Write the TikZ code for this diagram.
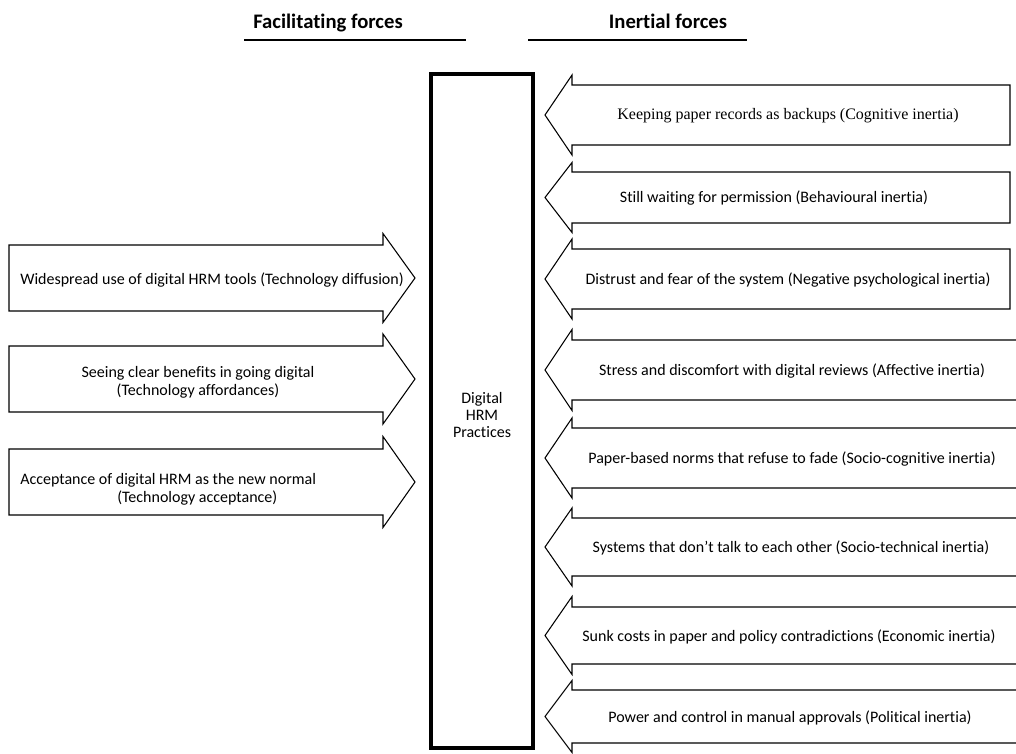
\documentclass[tikz,border=0pt]{standalone}
\usepackage{fontspec}
\setmainfont{Carlito}[Ligatures=NoCommon]
\newfontfamily\timesfont{Liberation Serif}
\usetikzlibrary{positioning}

\begin{document}
\begin{tikzpicture}[x=0.75pt, y=-0.75pt, font=\fontsize{12}{13.5}\selectfont,
		blockarrow/.style={draw, line width=0.8pt, line join=miter},
		forcetext/.style={inner sep=0pt},
		heading/.style={anchor=base, font=\fontsize{15.5}{17}\selectfont\bfseries}]
		\useasboundingbox (0,0) rectangle (1016,753);
		\clip (0,0) rectangle (1016,753);
		% headings
		\node [heading] (fachead) at (328,28) {Facilitating forces};
		\node [heading] (inhead) at (668,28) {Inertial forces};
		\draw [line width=0.9pt] (244,40)--(466,40);
		\draw [line width=0.9pt] (528,40)--(747,40);
		% practices
		\node [draw, line width=3pt, minimum width=76.5pt, minimum height=505.5pt] (hrm) at (482,411) {};
		\node [align=center, inner sep=0pt, font=\fontsize{12}{12.75}\selectfont] (hrmtext) at (482,415) {Digital\\HRM\\Practices};
		% facilitating forces
		\foreach \c/\b/\h in {278/33/44.5, 379/33/45, 482/33/45.5}{
			\draw [blockarrow] (9,\c-\b)--(383,\c-\b)--(383,\c-\h)--(415,\c)--(383,\c+\h)--(383,\c+\b)--(9,\c+\b)--cycle;
		}
		\node [forcetext, anchor=west] (fac1) at (20,280) {Widespread use of digital HRM tools (Technology diffusion)};
		\node [forcetext, align=center] (fac2) at (198,382) {Seeing clear benefits in going digital\\(Technology affordances)};
		\node [forcetext, align=left, anchor=west] (fac3) at (20,489) {Acceptance of digital HRM as the new normal\\\hspace*{72.75pt}(Technology acceptance)};
		% inertial forces
		\foreach \c/\b/\h/\r/\t/\lab [count=\i] in {
			115/30/40/1010/788/{\timesfont Keeping paper records as backups (Cognitive inertia)},
			197.5/25.5/35/1010/774/{Still waiting for permission (Behavioural inertia)},
			279/30/40/1010/788/{Distrust and fear of the system (Negative psychological inertia)},
			370/30/40.5/1030/792/{Stress and discomfort with digital reviews (Affective inertia)},
			458/30/40/1030/792/{Paper-based norms that refuse to fade (Socio-cognitive inertia)},
			547/29/39/1030/791/{Systems that don’t talk to each other (Socio-technical inertia)},
			635.5/28.5/39/1030/789/{Sunk costs in paper and policy contradictions (Economic inertia)},
			716.5/26.5/36/1030/790/{Power and control in manual approvals (Political inertia)}}{
			\draw [blockarrow] (\r,\c-\b)--(572,\c-\b)--(572,\c-\h)--(545,\c)--(572,\c+\h)--(572,\c+\b)--(\r,\c+\b)--cycle;
			\node [forcetext] (inert\i) at (\t,\c+1) {\lab};
		}
	\end{tikzpicture}
\end{document}
